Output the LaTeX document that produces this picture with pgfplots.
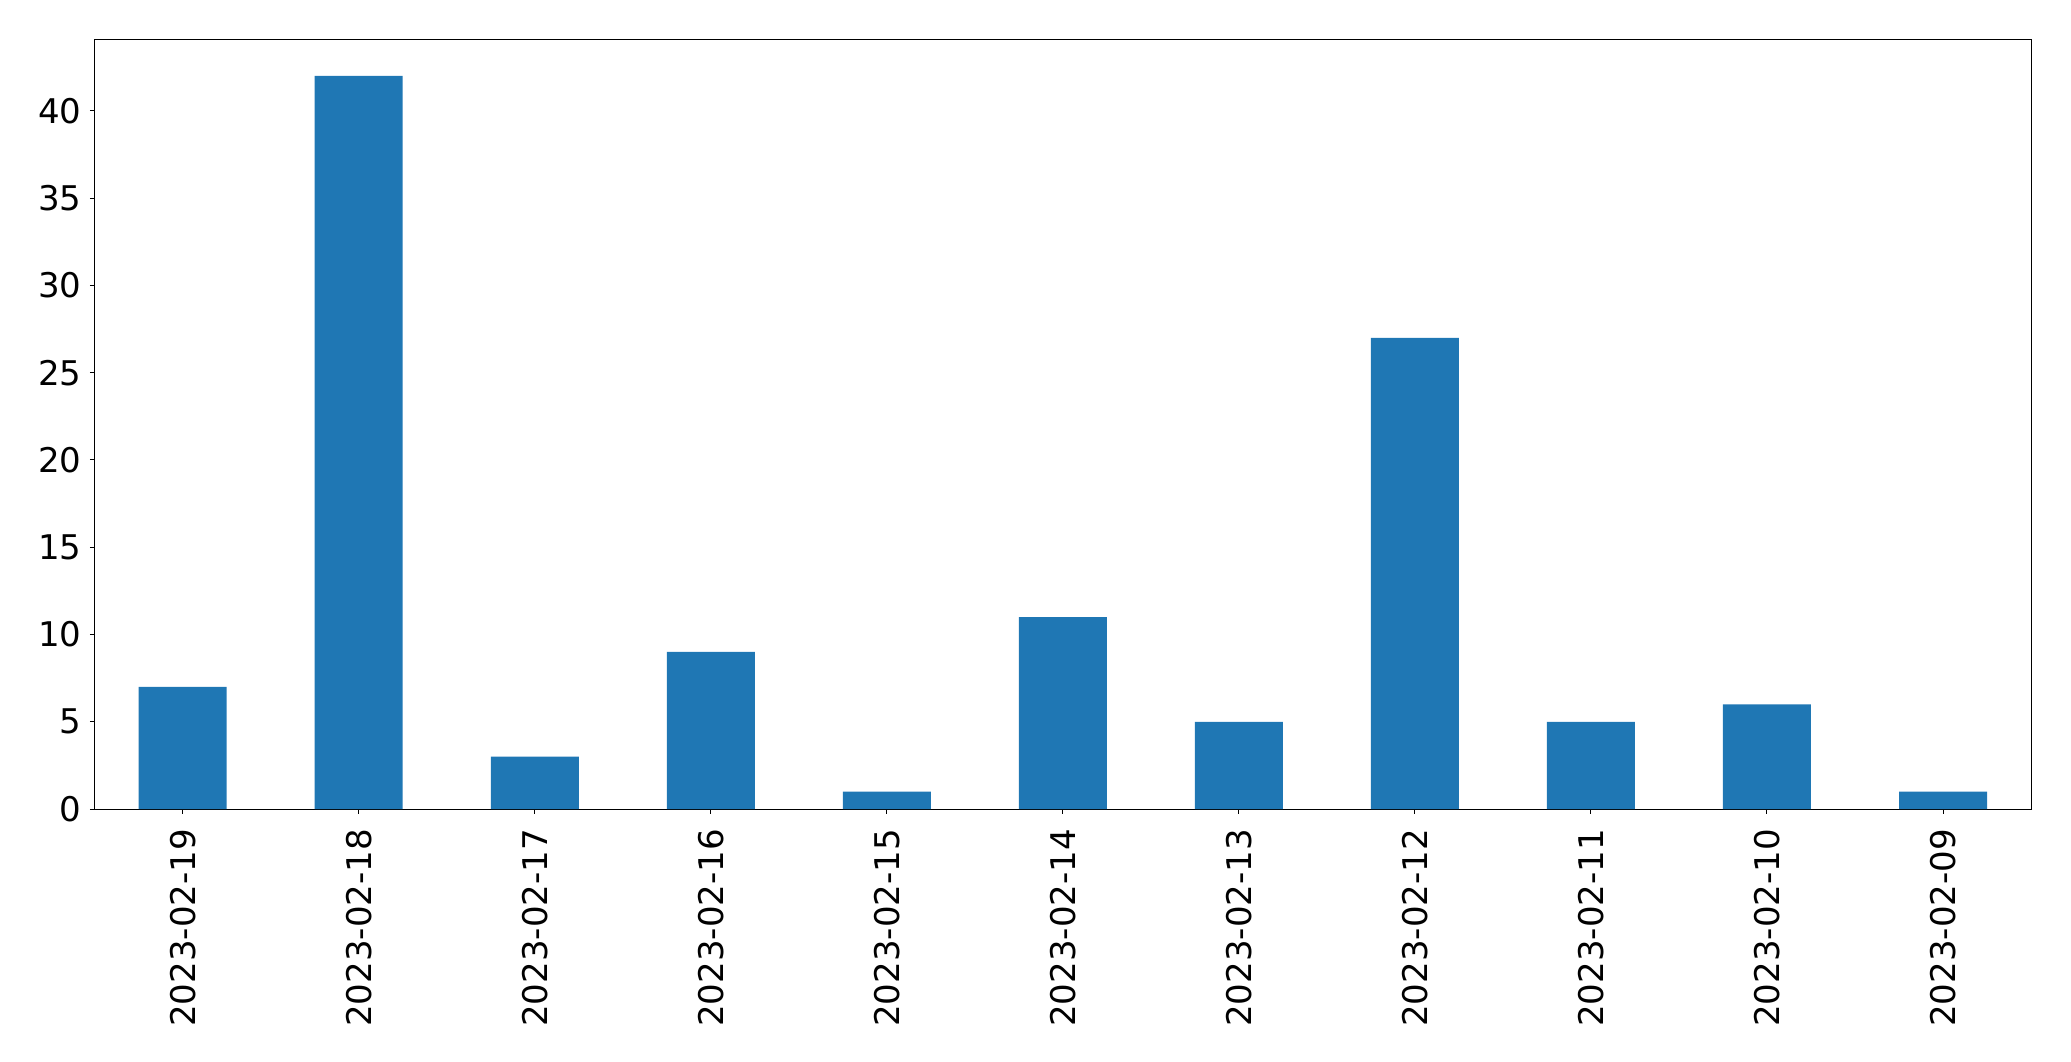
\documentclass[border=0pt]{standalone}
\usepackage{pgfplots}
\pgfplotsset{compat=1.18}
\usepackage{fontspec}
\setmainfont{DejaVu Sans}
\definecolor{mplblue}{HTML}{1F77B4}
\begin{document}
\fontsize{17}{20.4}\selectfont
\begin{tikzpicture}
\begin{axis}[
  name=ax,
  scale only axis,
  width=968.2pt, height=384.9pt,
  xmin=-0.5, xmax=10.5,
  ymin=0, ymax=44.1,
  xtick={0,...,10},
  xticklabels={2023-02-19,2023-02-18,2023-02-17,2023-02-16,2023-02-15,2023-02-14,2023-02-13,2023-02-12,2023-02-11,2023-02-10,2023-02-09},
  ytick={0,5,...,40},
  tick align=outside,
  major tick length=2.35pt,
  tick style={black, line width=0.5pt},
  xtick pos=bottom, ytick pos=left,
  axis line style={line width=0.5pt},
  /pgf/number format/assume math mode=true,
  ticklabel style={font=\fontsize{17}{20.4}\selectfont},
  xticklabel style={inner sep=0pt, yshift=-7.5pt, rotate=90, anchor=east},
  yticklabel style={inner sep=0pt, xshift=-4pt},
]
\addplot[ybar, bar width=0.5, fill=mplblue, draw=none] coordinates {
(0,7) (1,42) (2,3) (3,9) (4,1) (5,11) (6,5) (7,27) (8,5) (9,6) (10,1)
};
\end{axis}
\path ([xshift=-47.35pt,yshift=-126pt]ax.south west) rectangle ([xshift=20pt,yshift=19.65pt]ax.north east);
\end{tikzpicture}
\end{document}
